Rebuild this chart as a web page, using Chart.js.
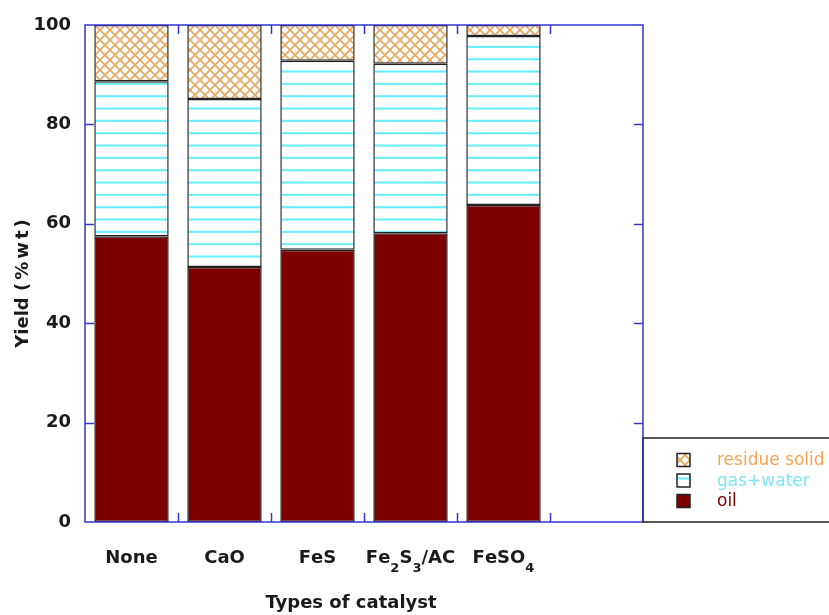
<!DOCTYPE html>
<html>
<head>
<meta charset="utf-8">
<script src="https://cdn.jsdelivr.net/npm/chart.js@4.4.1/dist/chart.umd.min.js"></script>
<style>
  html, body { margin: 0; padding: 0; background: #fff; }
  #chart { display: block; }
</style>
</head>
<body>
<canvas id="chart" width="829" height="615"></canvas>
<script>
// Product yields (%wt) per catalyst
const categories = ['None', 'CaO', 'FeS', 'Fe₂S₃/AC', 'FeSO₄'];
const oil = [57.5, 51.3, 54.8, 58.1, 63.8];
const gasWater = [31.2, 33.8, 38.0, 34.1, 34.0];
const residue = [11.3, 14.9, 7.2, 7.8, 2.2];
const yTicks = [20, 40, 60, 80];

const FONT = '"DejaVu Sans", Verdana, sans-serif';
const FRAME = '#3434d2';
const COLORS = {
  oil: '#7d0000',
  gasLine: '#66eefc',
  gasText: '#7ee6f2',
  hatch: '#e4a862',
  hatchText: '#f5a552',
  edge: '#222222'
};

// cross-hatch fill for the solid residue
function hatchPattern() {
  const s = 10;
  const c = document.createElement('canvas');
  c.width = s; c.height = s;
  const g = c.getContext('2d');
  g.fillStyle = '#fff';
  g.fillRect(0, 0, s, s);
  g.strokeStyle = COLORS.hatch;
  g.lineWidth = 1.7;
  g.beginPath();
  g.moveTo(-1, -1); g.lineTo(s + 1, s + 1);
  g.moveTo(s + 1, -1); g.lineTo(-1, s + 1);
  g.stroke();
  return g.createPattern(c, 'repeat');
}

// horizontal lines for gas+water
function linePattern() {
  const c = document.createElement('canvas');
  c.width = 8; c.height = 12;
  const g = c.getContext('2d');
  g.fillStyle = '#fff';
  g.fillRect(0, 0, 8, 12);
  g.fillStyle = COLORS.gasLine;
  g.fillRect(0, 0, 8, 2);
  const p = g.createPattern(c, 'repeat');
  p.setTransform(new DOMMatrix().translate(0, 70.5).scale(1, 12.33 / 12));
  return p;
}

const hatch = hatchPattern();
const lines = linePattern();

// draws a label, rendering subscript digits smaller and lowered
const SUBS = '₀₁₂₃₄₅₆₇₈₉';
function drawRichLabel(ctx, text, cx, baseline) {
  const main = 'bold 18px ' + FONT;
  const sub = 'bold 13px ' + FONT;
  const parts = [...text].map(ch => {
    const i = SUBS.indexOf(ch);
    return i >= 0 ? { t: String(i), sub: true } : { t: ch, sub: false };
  });
  let total = 0;
  parts.forEach(p => { ctx.font = p.sub ? sub : main; p.w = ctx.measureText(p.t).width; total += p.w; });
  let x = cx - total / 2;
  ctx.textAlign = 'left';
  ctx.textBaseline = 'alphabetic';
  parts.forEach(p => {
    ctx.font = p.sub ? sub : main;
    ctx.fillText(p.t, x, baseline + (p.sub ? 9 : 0));
    x += p.w;
  });
}

const decorations = {
  id: 'decorations',
  afterDraw(chart) {
    const { ctx, chartArea: a, scales: { x, y } } = chart;
    ctx.save();

    // frame
    ctx.strokeStyle = FRAME;
    ctx.lineWidth = 1.5;
    ctx.strokeRect(a.left, a.top, a.right - a.left, a.bottom - a.top);

    // inward ticks
    ctx.beginPath();
    yTicks.forEach(v => {
      const py = Math.round(y.getPixelForValue(v)) + 0.5;
      ctx.moveTo(a.left, py); ctx.lineTo(a.left + 9, py);
      ctx.moveTo(a.right, py); ctx.lineTo(a.right - 9, py);
    });
    const n = x.getLabels().length;
    for (let i = 1; i < n; i++) {
      const px = Math.round((x.getPixelForValue(i - 1) + x.getPixelForValue(i)) / 2) + 0.5;
      ctx.moveTo(px, a.top); ctx.lineTo(px, a.top + 9);
      ctx.moveTo(px, a.bottom); ctx.lineTo(px, a.bottom - 9);
    }
    ctx.stroke();

    // category labels
    ctx.fillStyle = '#1a1a1a';
    categories.forEach((c, i) => drawRichLabel(ctx, c, x.getPixelForValue(i), 563));

    // axis titles
    ctx.font = 'bold 18px ' + FONT;
    ctx.textAlign = 'center';
    ctx.textBaseline = 'alphabetic';
    ctx.fillText('Types of catalyst', 351, 608);

    ctx.save();
    ctx.translate(28, 282);
    ctx.rotate(-Math.PI / 2);
    const head = 'Yield ';
    const unit = '(%wt)';
    ctx.font = 'bold 18px ' + FONT;
    const wHead = ctx.measureText(head).width;
    ctx.letterSpacing = '3px';
    const wUnit = ctx.measureText(unit).width;
    const start = -(wHead + wUnit) / 2;
    ctx.textAlign = 'left';
    ctx.fillText(unit, start + wHead, 0);
    ctx.letterSpacing = '0px';
    ctx.fillText(head, start, 0);
    ctx.restore();

    // legend box
    const lx = a.right, ly = 438;
    ctx.fillStyle = '#fff';
    ctx.fillRect(lx, ly, 200, a.bottom - ly);
    ctx.strokeStyle = '#222';
    ctx.lineWidth = 1.5;
    ctx.strokeRect(lx, ly, 200, a.bottom - ly);
    ctx.strokeStyle = FRAME;
    ctx.beginPath();
    ctx.moveTo(lx, ly); ctx.lineTo(lx, a.bottom);
    ctx.stroke();

    const entries = chart.data.datasets.slice().reverse();
    const textColors = [COLORS.hatchText, COLORS.gasText, COLORS.oil];
    ctx.font = '17px ' + FONT;
    ctx.textAlign = 'left';
    ctx.textBaseline = 'middle';
    entries.forEach((ds, i) => {
      const cy = 460 + i * 20.5;
      ctx.fillStyle = ds.backgroundColor;
      ctx.fillRect(677, cy - 6.5, 13, 13);
      ctx.strokeStyle = '#222';
      ctx.lineWidth = 1.5;
      ctx.strokeRect(677, cy - 6.5, 13, 13);
      ctx.fillStyle = textColors[i];
      ctx.fillText(ds.label, 717, cy + 1);
    });

    ctx.restore();
  }
};

new Chart(document.getElementById('chart'), {
  type: 'bar',
  data: {
    labels: [...categories, ''],
    datasets: [
      { label: 'oil', data: oil, backgroundColor: COLORS.oil },
      { label: 'gas+water', data: gasWater, backgroundColor: lines },
      { label: 'residue solid', data: residue, backgroundColor: hatch }
    ].map(ds => ({
      ...ds,
      borderColor: COLORS.edge,
      borderWidth: 1.5,
      borderSkipped: false,
      categoryPercentage: 1,
      barPercentage: 0.8
    }))
  },
  options: {
    responsive: false,
    animation: false,
    layout: { padding: { top: 25, right: 186, bottom: 93, left: 0 } },
    plugins: { legend: { display: false }, tooltip: { enabled: false } },
    scales: {
      x: { stacked: true, display: false },
      y: {
        stacked: true,
        min: 0,
        max: 100,
        ticks: {
          stepSize: 20,
          padding: 14,
          color: '#1a1a1a',
          font: { family: FONT, size: 18, weight: 'bold' }
        },
        grid: { display: false, drawTicks: false },
        border: { display: false },
        afterFit(scale) { scale.width = 85; }
      }
    }
  },
  plugins: [decorations]
});
</script>
</body>
</html>
